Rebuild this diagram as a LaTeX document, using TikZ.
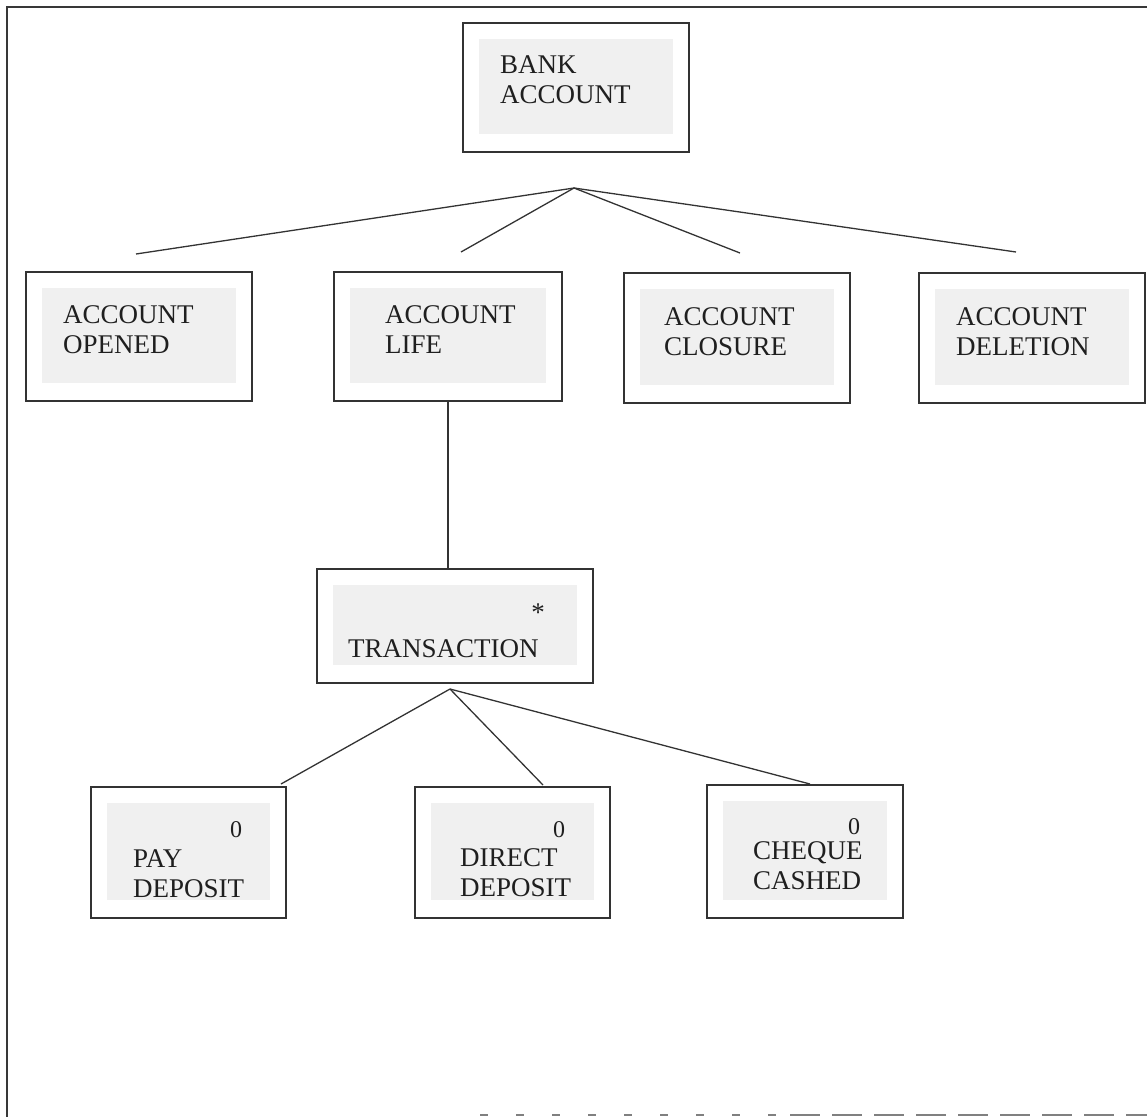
\documentclass[tikz,border=0pt]{standalone}
\usepackage{fontspec}
\setmainfont{Liberation Serif}
\begin{document}
\begin{tikzpicture}[x=1pt,y=-1pt,
  frame/.style={draw=black!78,line width=1.8pt},
  box/.style={draw=black!80,line width=1.4pt,inner sep=0pt,rectangle},
  inner/.style={fill=black!6},
  lbl/.style={inner sep=0pt,anchor=north west,align=left,text=black!88,
              font=\fontsize{27}{30}\selectfont},
  mark0/.style={lbl,font=\fontsize{24}{27}\selectfont},
  link/.style={draw=black!80,line width=1.3pt}]
\useasboundingbox (0,0) rectangle (1147,1117);

% outer frame (top and left edges)
\draw[frame] (1147,7) -- (7,7) -- (7,1117);
% ragged dashed edge along the bottom
\draw[black!50,line width=2pt,dash pattern=on 8pt off 28pt] (480,1115) -- (790,1115);
\draw[black!50,line width=2pt,dash pattern=on 30pt off 12pt] (790,1115) -- (1147,1115);

% boxes
\node[box,minimum width=226pt,minimum height=129pt] (bank)   at (576,87.5)  {};
\node[box,minimum width=226pt,minimum height=129pt] (open)   at (139,336.5) {};
\node[box,minimum width=228pt,minimum height=129pt] (life)   at (448,336.5) {};
\node[box,minimum width=226pt,minimum height=130pt] (close)  at (737,338)   {};
\node[box,minimum width=226pt,minimum height=130pt] (del)    at (1032,338)  {};
\node[box,minimum width=276pt,minimum height=114pt] (trans)  at (455,626)   {};
\node[box,minimum width=195pt,minimum height=131pt] (pay)    at (188.5,852.5) {};
\node[box,minimum width=195pt,minimum height=131pt] (direct) at (512.5,852.5) {};
\node[box,minimum width=196pt,minimum height=133pt] (cheque) at (805,851.5)   {};

% light grey panel inside each box
\foreach \n in {bank,open,life,close,del,trans,pay,direct,cheque}
  \fill[inner] ([shift={(17pt,-17pt)}]\n.north west) rectangle ([shift={(-17pt,19pt)}]\n.south east);

% labels
\node[lbl] (bankT)    at (500,55)  {BANK\\ACCOUNT};
\node[lbl] (openT)    at (63,305)  {ACCOUNT\\OPENED};
\node[lbl] (lifeT)    at (385,305) {ACCOUNT\\LIFE};
\node[lbl] (closeT)   at (664,307) {ACCOUNT\\CLOSURE};
\node[lbl] (delT)     at (956,307) {ACCOUNT\\DELETION};
\node[lbl,anchor=center] (transS) at (538,613) {*};
\node[lbl] (transT)   at (348,639) {TRANSACTION};
\node[mark0] (payZ)    at (230,821) {0};
\node[lbl]   (payT)    at (133,849) {PAY\\DEPOSIT};
\node[mark0] (directZ) at (553,821) {0};
\node[lbl]   (directT) at (460,848) {DIRECT\\DEPOSIT};
\node[mark0] (chequeZ) at (848,818) {0};
\node[lbl]   (chequeT) at (753,841) {CHEQUE\\CASHED};

% connectors from BANK ACCOUNT
\coordinate (top) at (574,188);
\coordinate (t1) at (136,254);
\coordinate (t2) at (461,252);
\coordinate (t3) at (740,253);
\coordinate (t4) at (1016,252);
\foreach \e in {t1,t2,t3,t4} \draw[link] (top) -- (\e);

% ACCOUNT LIFE to TRANSACTION
\draw[link] (life.south) -- (life.south |- trans.north);

% connectors from TRANSACTION
\coordinate (mid) at (450,689);
\coordinate (b1) at (281,784);
\coordinate (b2) at (543,785);
\coordinate (b3) at (810,784);
\foreach \e in {b1,b2,b3} \draw[link] (mid) -- (\e);
\end{tikzpicture}
\end{document}
